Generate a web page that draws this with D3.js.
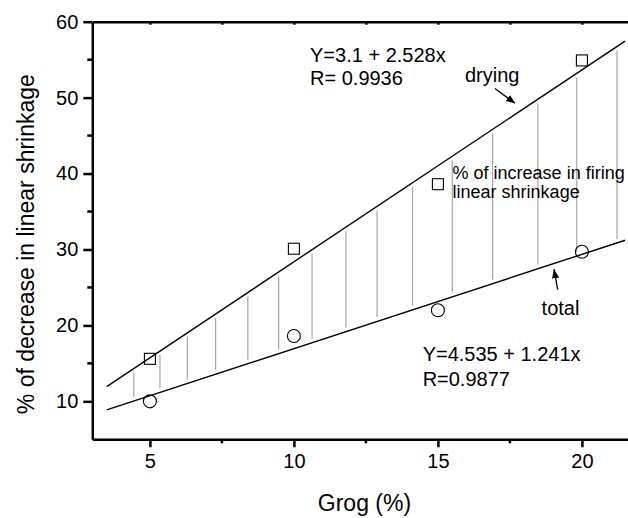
<!DOCTYPE html>
<html>
<head>
<meta charset="utf-8">
<script src="https://cdn.jsdelivr.net/npm/d3@7.9.0/dist/d3.min.js"></script>
<style>
  html, body { margin: 0; padding: 0; background: #fff; }
  svg { display: block; font-family: "Liberation Sans", Arial, sans-serif; }
  .axis path, .axis line { stroke: #000; stroke-width: 2.5; }
  .axis text { font-size: 20px; fill: #000; }
  .note { fill: #000; }
</style>
</head>
<body>
<svg id="chart" width="628" height="518"></svg>
<script>
/* ──── data ──── */
const grog        = [5, 10, 15, 20];                 // Grog (%)
const dryingPts   = [15.6, 30.1, 38.6, 54.9];        // squares
const totalPts    = [10.0, 18.6, 22.0, 29.7];        // circles
const dryingFit   = [3.1, 2.528];                    // Y = a + b x
const totalFit    = [4.535, 1.241];
const fitRange    = [3.5, 21.5];
const hatchX      = [4.44, 5.35, 6.30, 7.28, 8.40, 9.47, 10.63, 11.81,
                     12.89, 14.12, 15.5, 16.9, 18.47, 19.82, 21.22];
const xMajor      = [5, 10, 15, 20];
const xMinor      = [7.5, 12.5, 17.5];
const yMajor      = [10, 20, 30, 40, 50, 60];
const yMinor      = [15, 25, 35, 45, 55];

/* ──── layout ──── */
const svg    = d3.select('#chart');
const x      = d3.scaleLinear().domain([3, 22]).range([92.3, 639.5]);
const y      = d3.scaleLinear().domain([5, 60]).range([439.3, 21.7]);
const fit    = (c, v) => c[0] + c[1] * v;

/* arrow head */
svg.append('defs').append('marker')
   .attr('id', 'head')
   .attr('viewBox', '0 0 10 10')
   .attr('refX', 10).attr('refY', 5)
   .attr('markerWidth', 9).attr('markerHeight', 9)
   .attr('markerUnits', 'userSpaceOnUse')
   .attr('orient', 'auto')
   .append('path')
   .attr('d', 'M0,1 L10,5 L0,9 Z')
   .attr('fill', '#000');

/* ──── hatch between the two fits ──── */
svg.append('g')
   .selectAll('line')
   .data(hatchX)
   .join('line')
   .attr('x1', d => x(d)).attr('x2', d => x(d))
   .attr('y1', d => y(fit(dryingFit, d)) + 4)
   .attr('y2', d => y(fit(totalFit, d)) - 4)
   .attr('stroke', '#ababab')
   .attr('stroke-width', 1.3);

/* ──── fit lines ──── */
[dryingFit, totalFit].forEach(c => {
  svg.append('line')
     .attr('x1', x(fitRange[0])).attr('y1', y(fit(c, fitRange[0])))
     .attr('x2', x(fitRange[1])).attr('y2', y(fit(c, fitRange[1])))
     .attr('stroke', '#000').attr('stroke-width', 1.4);
});

/* ──── axes ──── */
const gx = svg.append('g').attr('class', 'axis')
   .attr('transform', `translate(0,${y(5)})`)
   .call(d3.axisBottom(x).tickValues(xMajor).tickSize(8).tickSizeOuter(0).tickPadding(6).tickFormat(d3.format('d')));
gx.selectAll('text').attr('dy', '0.75em');
gx.selectAll('.minor').data(xMinor).join('line')
   .attr('class', 'minor')
   .attr('x1', d => x(d)).attr('x2', d => x(d))
   .attr('y1', 0).attr('y2', 4);

const gy = svg.append('g').attr('class', 'axis')
   .attr('transform', `translate(${x(3)},0)`)
   .call(d3.axisLeft(y).tickValues(yMajor).tickSize(9).tickSizeOuter(0).tickPadding(5).tickFormat(d3.format('d')));
gy.selectAll('.minor').data(yMinor).join('line')
   .attr('class', 'minor')
   .attr('y1', d => y(d)).attr('y2', d => y(d))
   .attr('x1', 0).attr('x2', -5);

/* top frame line with small inward ticks */
const gt = svg.append('g').attr('class', 'axis')
   .attr('transform', `translate(0,${y(60)})`)
   .call(d3.axisTop(x).tickValues(xMajor.concat(xMinor)).tickSize(-3).tickSizeOuter(0).tickFormat(''));
gt.selectAll('line').attr('stroke-width', 1.5);

/* ──── points ──── */
svg.append('g')
   .selectAll('rect')
   .data(grog.map((g, i) => [g, dryingPts[i]]))
   .join('rect')
   .attr('x', d => x(d[0]) - 5.5).attr('y', d => y(d[1]) - 5.5)
   .attr('width', 11).attr('height', 11)
   .attr('fill', 'none').attr('stroke', '#000').attr('stroke-width', 1.1);

svg.append('g')
   .selectAll('circle')
   .data(grog.map((g, i) => [g, totalPts[i]]))
   .join('circle')
   .attr('cx', d => x(d[0])).attr('cy', d => y(d[1]))
   .attr('r', 6.5)
   .attr('fill', 'none').attr('stroke', '#000').attr('stroke-width', 1.1);

/* ──── annotations ──── */
const notes = [
  { t: 'Y=3.1 + 2.528x',          gx: 10.56, gy: 54.7,  fs: 20 },
  { t: 'R= 0.9936',               gx: 10.56, gy: 51.66, fs: 20 },
  { t: 'drying',                  gx: 15.94, gy: 52.1,  fs: 20 },
  { t: '% of increase in firing', gx: 15.51, gy: 39.28, fs: 18 },
  { t: 'linear shrinkage',        gx: 15.51, gy: 36.78, fs: 18 },
  { t: 'total',                   gx: 18.6,  gy: 21.37, fs: 20 },
  { t: 'Y=4.535 + 1.241x',        gx: 14.47, gy: 15.31, fs: 20 },
  { t: 'R=0.9877',                gx: 14.47, gy: 12.06, fs: 20 }
];
svg.append('g')
   .selectAll('text')
   .data(notes)
   .join('text')
   .attr('class', 'note')
   .attr('x', d => x(d.gx)).attr('y', d => y(d.gy))
   .style('font-size', d => d.fs + 'px')
   .text(d => d.t);

const arrows = [
  [16.98, 51.2, 17.68, 49.25],
  [19.16, 24.7, 19.03, 27.4]
];
svg.append('g')
   .selectAll('line')
   .data(arrows)
   .join('line')
   .attr('x1', d => x(d[0])).attr('y1', d => y(d[1]))
   .attr('x2', d => x(d[2])).attr('y2', d => y(d[3]))
   .attr('stroke', '#000').attr('stroke-width', 1.3)
   .attr('marker-end', 'url(#head)');

/* ──── axis titles ──── */
svg.append('text')
   .attr('x', x(12.45)).attr('y', 511)
   .attr('text-anchor', 'middle')
   .style('font-size', '23px')
   .text('Grog (%)');

svg.append('text')
   .attr('transform', `translate(34,${y(30.7)}) rotate(-90)`)
   .attr('text-anchor', 'middle')
   .style('font-size', '23px')
   .text('% of decrease in linear shrinkage');
</script>
</body>
</html>
